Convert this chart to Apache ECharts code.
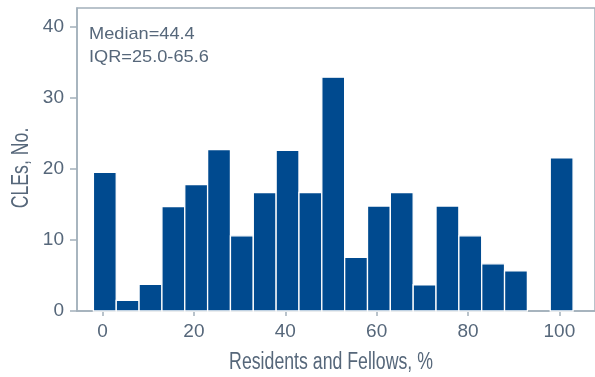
<!DOCTYPE html>
<html>
<head>
<meta charset="utf-8">
<script src="https://cdn.jsdelivr.net/npm/echarts@6/dist/echarts.min.js"></script>
<style>html,body{margin:0;padding:0;background:#fff;}#c{width:595px;height:377px;}</style>
</head>
<body>
<div id="c"></div>
<script>
// Histogram bins (left edge of each 5-point bin) and counts
var binStarts = [-2, 3, 8, 13, 18, 23, 28, 33, 38, 43, 48, 53, 58, 63, 68, 73, 78, 83, 88, 93, 98];
var binWidth = 5;
var counts = [19.55, 1.5, 3.75, 14.7, 17.8, 22.75, 10.6, 16.7, 22.65, 16.7, 32.95, 7.55, 14.8, 16.7, 3.7, 14.8, 10.6, 6.65, 5.65, 0, 21.6];
var xTicks = [0, 20, 40, 60, 80, 100];
var yTicks = [0, 10, 20, 30, 40];
var xTitle = 'Residents and Fellows, %';
var yTitle = 'CLEs, No.';
var statLines = ['Median=44.4', 'IQR=25.0-65.6'];

var textColor = '#56677a';
var axisColor = '#a3b0bb';
var barColor = '#004a8f';
var tickFont = 'Liberation Sans, Arial, sans-serif';

var data = binStarts.map(function (s, i) { return [s, s + binWidth, counts[i]]; });

var chart = echarts.init(document.getElementById('c'), null, {renderer: 'canvas'});
chart.setOption({
  animation: false,
  grid: {left: 77, top: 8, right: -4, bottom: 66, show: true, borderColor: axisColor, borderWidth: 1.5, backgroundColor: 'transparent'},
  xAxis: {
    type: 'value', min: -5.59, max: 107.8,
    axisLine: {show: true, onZero: false, lineStyle: {color: axisColor, width: 1.5}},
    axisTick: {show: true, length: 5, customValues: xTicks, lineStyle: {color: axisColor, width: 1.5}},
    axisLabel: {customValues: xTicks, color: textColor, fontSize: 19, fontFamily: tickFont, margin: 11},
    splitLine: {show: false}
  },
  yAxis: {
    type: 'value', min: 0, max: 42.7,
    axisLine: {show: true, onZero: false, lineStyle: {color: axisColor, width: 1.5}},
    axisTick: {show: true, length: 7, customValues: yTicks, lineStyle: {color: axisColor, width: 1.5}},
    axisLabel: {customValues: yTicks, color: textColor, fontSize: 19, fontFamily: tickFont, margin: 13},
    splitLine: {show: false}
  },
  series: [{
    type: 'custom',
    data: data,
    encode: {x: [0, 1], y: 2},
    renderItem: function (params, api) {
      var p0 = api.coord([api.value(0), 0]);
      var p1 = api.coord([api.value(1), api.value(2)]);
      if (api.value(2) <= 0) return null;
      return {
        type: 'rect',
        shape: {x: p0[0], y: p1[1], width: p1[0] - p0[0], height: p0[1] - p1[1]},
        style: {fill: barColor, stroke: '#ffffff', lineWidth: 1.3}
      };
    }
  }],
  graphic: [
    {type: 'text', x: 89, y: 34, scaleX: 1.07, style: {text: statLines[0], fill: textColor, font: '17px ' + tickFont, verticalAlign: 'middle'}},
    {type: 'text', x: 89, y: 57, scaleX: 1.07, style: {text: statLines[1], fill: textColor, font: '17px ' + tickFont, verticalAlign: 'middle'}},
    {type: 'text', x: 331, y: 363, scaleX: 0.77, style: {text: xTitle, fill: textColor, font: '23px ' + tickFont, align: 'center', verticalAlign: 'middle'}},
    {type: 'text', x: 22, y: 168, rotation: Math.PI / 2, scaleX: 0.77, style: {text: yTitle, fill: textColor, font: '23px ' + tickFont, align: 'center', verticalAlign: 'middle'}}
  ]
});
</script>
</body>
</html>
